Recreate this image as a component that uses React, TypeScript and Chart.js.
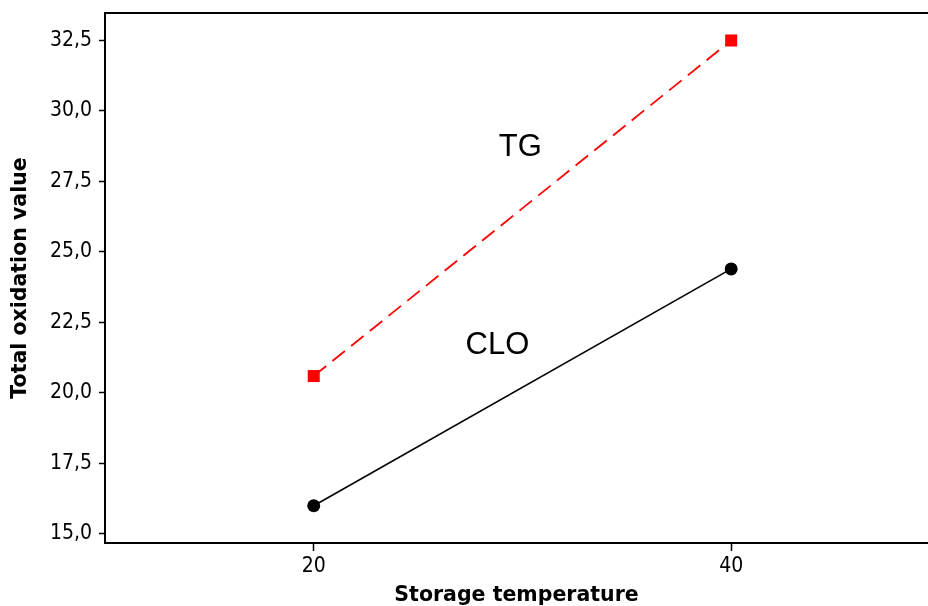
import React, { useEffect, useRef } from "react";
import { Chart, registerables } from "chart.js";

Chart.register(...registerables);

const temperatures = [20, 40];
const tgValues = [20.6, 32.5];
const cloValues = [16.0, 24.4];
const yTickValues = [15, 17.5, 20, 22.5, 25, 27.5, 30, 32.5];
const xTickValues = [20, 40];
const labelTexts = ["TG", "CLO"];
const labelX = [29.9, 28.8];
const labelY = [28.7, 21.7];

const tickFont = '"DejaVu Sans Condensed", "DejaVu Sans", sans-serif';
const titleFont = '"DejaVu Sans", sans-serif';

const boxPlugin = {
  id: "boxAndLabels",
  beforeDatasetsDraw(chart: any) {
    const { ctx, chartArea } = chart;
    ctx.save();
    ctx.strokeStyle = "#000";
    ctx.lineWidth = 2;
    ctx.beginPath();
    ctx.moveTo(chartArea.right + 2, chartArea.top);
    ctx.lineTo(chartArea.left, chartArea.top);
    ctx.lineTo(chartArea.left, chartArea.bottom);
    ctx.lineTo(chartArea.right + 2, chartArea.bottom);
    ctx.stroke();
    ctx.restore();
  },
  afterDatasetsDraw(chart: any) {
    const { ctx, scales } = chart;
    ctx.save();
    ctx.fillStyle = "#000";
    ctx.font = '31px "Liberation Sans", Arial, sans-serif';
    ctx.textAlign = "center";
    ctx.textBaseline = "middle";
    labelTexts.forEach((t, i) => {
      ctx.fillText(t, scales.x.getPixelForValue(labelX[i]), scales.y.getPixelForValue(labelY[i]));
    });
    ctx.restore();
  },
};

export default function App() {
  const ref = useRef<HTMLCanvasElement>(null);
  useEffect(() => {
    if (!ref.current) return;
    const chart = new Chart(ref.current, {
      type: "line",
      data: {
        datasets: [
          {
            label: "TG",
            data: temperatures.map((t, i) => ({ x: t, y: tgValues[i] })),
            borderColor: "#ff0000",
            backgroundColor: "#ff0000",
            borderWidth: 1.8,
            borderDash: [16, 8],
            pointStyle: "rect",
            pointRadius: 8.5,
            pointBorderWidth: 0,
          },
          {
            label: "CLO",
            data: temperatures.map((t, i) => ({ x: t, y: cloValues[i] })),
            borderColor: "#000000",
            backgroundColor: "#000000",
            borderWidth: 1.6,
            pointStyle: "circle",
            pointRadius: 6.5,
            pointBorderWidth: 0,
          },
        ],
      },
      options: {
        animation: false,
        responsive: false,
        maintainAspectRatio: false,
        layout: { autoPadding: false, padding: { top: 13, right: 0, left: 0, bottom: 0 } },
        plugins: { legend: { display: false }, tooltip: { enabled: false } },
        scales: {
          x: {
            type: "linear",
            min: 10,
            max: 49.43,
            afterBuildTicks: (s: any) => {
              s.ticks = xTickValues.map((v) => ({ value: v }));
            },
            afterFit: (s: any) => {
              s.height = 63;
              s.paddingLeft = 0;
              s.paddingRight = 0;
            },
            grid: { drawOnChartArea: false, tickLength: 8, color: "#000", tickWidth: 1.5 },
            border: { display: false },
            ticks: {
              color: "#000",
              padding: 3,
              font: { family: tickFont, size: 21 },
              callback: (v: any) => String(v),
            },
            title: {
              display: true,
              text: "Storage temperature",
              color: "#000",
              font: { family: titleFont, size: 20.5, weight: "bold" },
              padding: { top: 0, bottom: -2 },
            },
          },
          y: {
            type: "linear",
            min: 14.68,
            max: 33.475,
            afterBuildTicks: (s: any) => {
              s.ticks = yTickValues.map((v) => ({ value: v }));
            },
            afterFit: (s: any) => {
              s.width = 105;
              s.paddingTop = 0;
              s.paddingBottom = 0;
            },
            grid: { drawOnChartArea: false, tickLength: 6, color: "#000", tickWidth: 1.5 },
            border: { display: false },
            ticks: {
              color: "#000",
              padding: 7,
              font: { family: tickFont, size: 21 },
              callback: (v: any) => Number(v).toFixed(1).replace(".", ","),
            },
            title: {
              display: true,
              text: "Total oxidation value",
              color: "#000",
              font: { family: titleFont, size: 20.5, weight: "bold" },
              padding: { top: 8, bottom: 0 },
            },
          },
        },
      },
      plugins: [boxPlugin],
    });
    return () => chart.destroy();
  }, []);
  return (
    <div style={{ position: "fixed", left: 0, top: 0, width: 928, height: 606, overflow: "hidden", background: "#fff" }}>
      <canvas ref={ref} width={928} height={606} style={{ display: "block" }} />
    </div>
  );
}
